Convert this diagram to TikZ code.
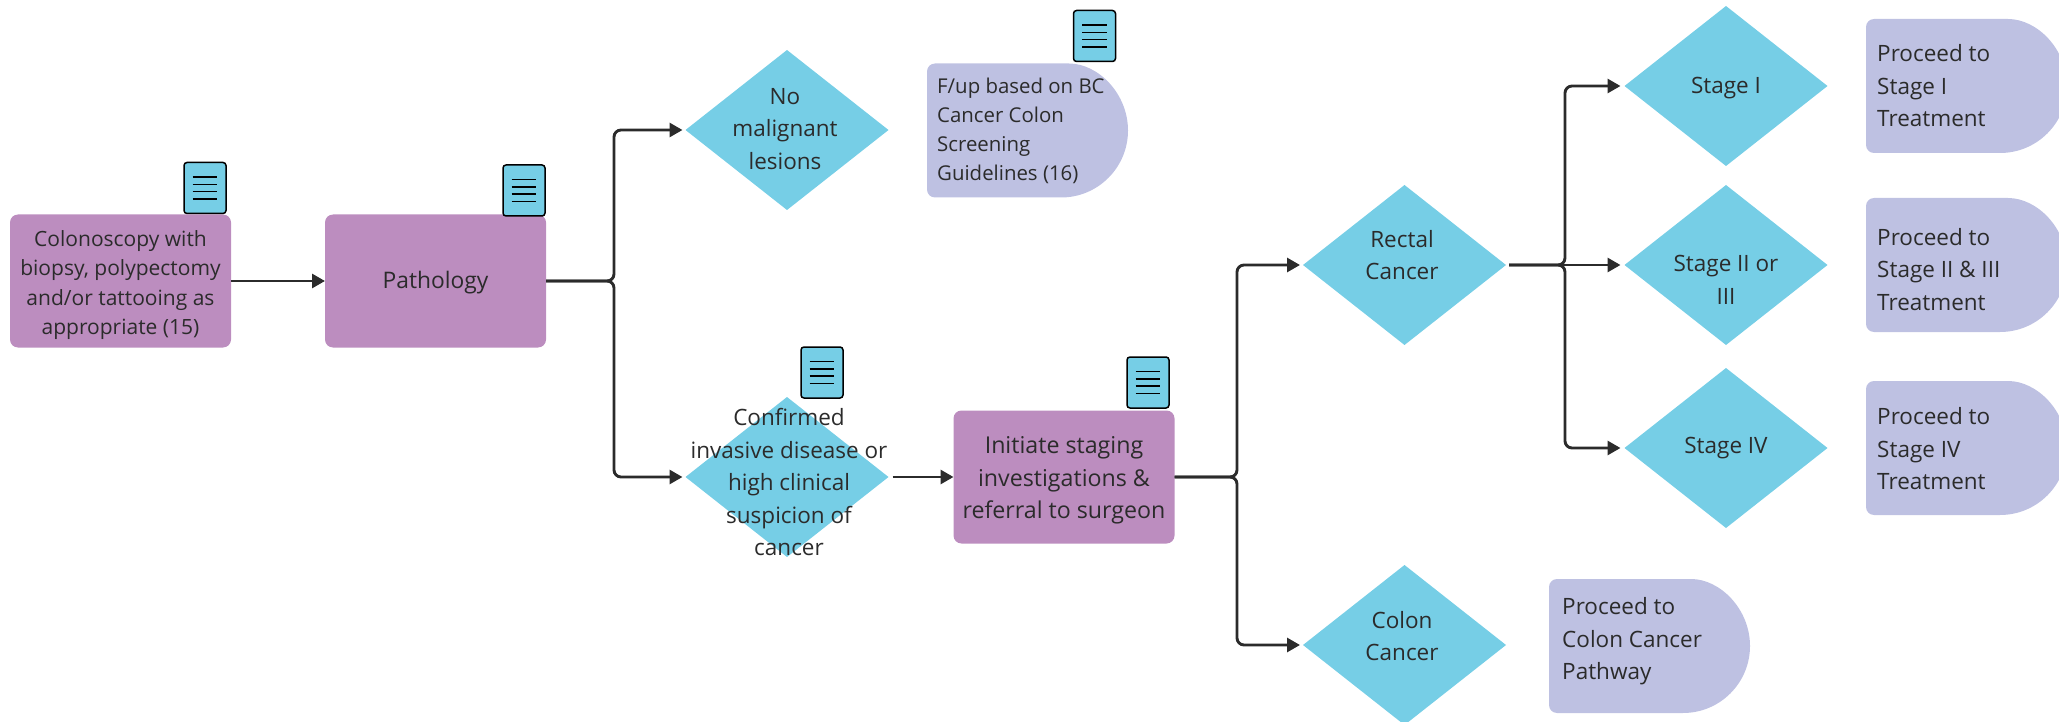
\documentclass[tikz,border=0pt]{standalone}
\usepackage{fontspec}
\setmainfont{Open Sans}
\usetikzlibrary{arrows.meta,shapes.geometric}
\definecolor{stepfill}{HTML}{BC8DBF}
\definecolor{decfill}{HTML}{76CEE6}
\definecolor{endfill}{HTML}{BEC1E2}
\definecolor{inkc}{HTML}{2B2B2B}
\tikzset{
  stepbox/.style={rectangle,rounded corners=8pt,fill=stepfill,minimum width=221pt,minimum height=133pt,inner sep=0pt,outer sep=0pt},
  steptext/.style={text=inkc,align=center,inner sep=0pt},
  decision/.style={diamond,fill=decfill,aspect=1.27,minimum width=203pt,minimum height=160pt,inner sep=0pt,outer sep=0pt},
  dectext/.style={text=inkc,align=center,inner sep=0pt,font=\fontsize{22.5}{32.5}\selectfont},
  endbox/.style={rectangle,minimum width=201pt,minimum height=134pt,inner sep=0pt,outer sep=0pt,
    path picture={\fill[endfill] (path picture bounding box.west) [rounded corners=8pt] -- (path picture bounding box.north west) -- ([xshift=-67pt]path picture bounding box.north east) [sharp corners] arc[start angle=90,end angle=-90,radius=67pt] [rounded corners=8pt] -- (path picture bounding box.south west) -- cycle;}},
  endtext/.style={text=inkc,align=left,anchor=west,inner sep=0pt,font=\fontsize{22.5}{32.5}\selectfont},
  docicon/.style={rectangle,draw=black,line width=1.5pt,rounded corners=3pt,fill=decfill,minimum width=42pt,minimum height=51pt,inner sep=0pt,
    path picture={\foreach \k in {-11,-3.67,3.67,11} \draw[line width=1.4pt] ([xshift=-12.3pt,yshift=\k pt]path picture bounding box.center) -- ([xshift=12.3pt,yshift=\k pt]path picture bounding box.center);}},
  link/.style={draw=inkc,line width=2.9pt,rounded corners=7pt,-{Triangle[length=13pt,width=14pt]}},
}
\begin{document}
\begin{tikzpicture}[x=1pt,y=-1pt]
    \path[use as bounding box,clip] (0,0) rectangle (2059,722);

    % purple steps
    \node[stepbox] (colonoscopy) at (120.5,281) {};
    \node[stepbox] (pathology) at (435.5,281) {};
    \node[stepbox] (staging) at (1064,477) {};

    \node[steptext,font=\fontsize{21}{29.6}\selectfont] (colonoscopytext) at (120.5,285) {Colonoscopy with\\biopsy, polypectomy\\and/or tattooing as\\appropriate (15)};
    \node[steptext,font=\fontsize{22.8}{32.5}\selectfont] (pathologytext) at (435.5,282.5) {Pathology};
    \node[steptext,font=\fontsize{23.2}{32.5}\selectfont] (stagingtext) at (1064,480.3) {Initiate staging\\investigations \&\\referral to surgeon};

    % decisions
    \node[decision] (nomalig) at (787,130) {};
    \node[decision] (confirmed) at (787,477) {};
    \node[decision] (rectal) at (1404.5,265) {};
    \node[decision] (colon) at (1404.5,645) {};
    \node[decision] (stageone) at (1726,86) {};
    \node[decision] (stagetwo) at (1726,265) {};
    \node[decision] (stagefour) at (1726,448) {};

    \node[dectext] (nomaligtext) at (785,128.8) {No\\malignant\\lesions};
    \node[dectext] (confirmedtext) at (789,482) {Confirmed\\invasive disease or\\high clinical\\suspicion of\\cancer};
    \node[dectext] (rectaltext) at (1402,255) {Rectal\\Cancer};
    \node[dectext] (colontext) at (1402,636) {Colon\\Cancer};
    \node[dectext] (stageonetext) at (1726,88) {Stage I};
    \node[dectext] (stagetwotext) at (1726,280) {Stage II or\\III};
    \node[dectext] (stagefourtext) at (1726,448) {Stage IV};

    % outcome boxes
    \node[endbox] (fup) at (1027.5,130.5) {};
    \node[endbox] (procone) at (1966.5,86) {};
    \node[endbox] (proctwo) at (1966.5,265) {};
    \node[endbox] (procfour) at (1966.5,448) {};
    \node[endbox] (proccolon) at (1649.5,646) {};

    \node[endtext,font=\fontsize{20.4}{29}\selectfont] (fuptext) at (937,130.5) {F/up based on BC\\Cancer Colon\\Screening\\Guidelines (16)};
    \node[endtext] (proconetext) at (1877,86) {Proceed to\\Stage I\\Treatment};
    \node[endtext] (proctwotext) at (1877,269.5) {Proceed to\\Stage II \& III\\Treatment};
    \node[endtext] (procfourtext) at (1877,449) {Proceed to\\Stage IV\\Treatment};
    \node[endtext] (proccolontext) at (1562,641.5) {Proceed to\\Colon Cancer\\Pathway};

    % document marks
    \node[docicon] (docone) at (205,188) {};
    \node[docicon] (doctwo) at (524,190.5) {};
    \node[docicon] (docthree) at (822,372.5) {};
    \node[docicon] (docfour) at (1148,382.5) {};
    \node[docicon] (docfive) at (1094.5,36) {};

    % branch points
    \coordinate (jctone) at (614,281);
    \coordinate (jcttwo) at (1237,477);
    \coordinate (jctthree) at (1565,265);

    \draw[link] (colonoscopy.east) -- (pathology.west);
    \draw[link,shorten >=3pt] (pathology.east) -- (jctone) |- (nomalig.west);
    \draw[link,shorten >=3pt] (pathology.east) -- (jctone) |- (confirmed.west);
    \draw[link,shorten <=4pt] (confirmed.east) -- (staging.west);
    \draw[link,shorten >=3pt] (staging.east) -- (jcttwo) |- (rectal.west);
    \draw[link,shorten >=3pt] (staging.east) -- (jcttwo) |- (colon.west);
    \draw[link,shorten <=3pt,shorten >=4pt] (rectal.east) -- (jctthree) |- (stageone.west);
    \draw[link,shorten <=3pt,shorten >=4pt] (rectal.east) -- (stagetwo.west);
    \draw[link,shorten <=3pt,shorten >=4pt] (rectal.east) -- (jctthree) |- (stagefour.west);
\end{tikzpicture}
\end{document}
